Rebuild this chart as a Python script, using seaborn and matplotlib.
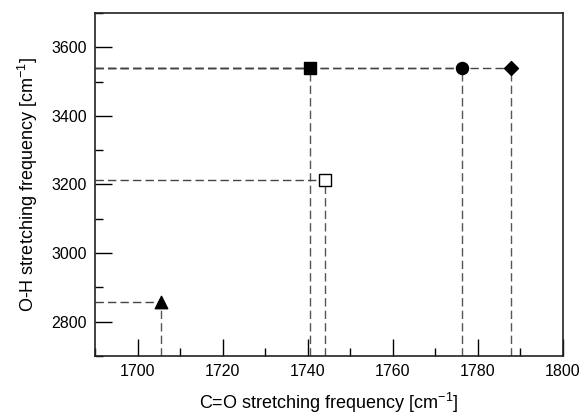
import numpy as np
import pandas as pd
import matplotlib
matplotlib.use('Agg')
import matplotlib.pyplot as plt
import seaborn as sns
from matplotlib.ticker import MultipleLocator

# C=O vs O-H stretching frequencies
co_freq = [1705.5, 1740.6, 1744.0, 1776.3, 1787.7]
oh_freq = [2858, 3540, 3214, 3540, 3540]
markers = ['^', 's', 's', 'o', 'D']
fills = ['black', 'black', 'white', 'black', 'black']
sizes = [80, 70, 70, 75, 50]

x_min, x_max = 1690, 1800
y_min, y_max = 2700, 3700

df = pd.DataFrame({'CO': co_freq, 'OH': oh_freq, 'marker': markers,
                   'fill': fills, 'size': sizes})

sns.set_style('ticks')
plt.rcParams['font.family'] = ['Liberation Sans', 'DejaVu Sans']
plt.rcParams['mathtext.fontset'] = 'custom'
plt.rcParams['mathtext.rm'] = 'Liberation Sans'
plt.rcParams['text.color'] = 'black'
plt.rcParams['axes.labelcolor'] = 'black'
plt.rcParams['xtick.labelcolor'] = 'black'
plt.rcParams['ytick.labelcolor'] = 'black'

fig = plt.figure(figsize=(5.84, 4.16), dpi=100)
ax = fig.add_axes([0.163, 0.144, 0.801, 0.825])

# dashed guide lines to both axes
for _, row in df.iterrows():
    ax.plot([x_min, row['CO']], [row['OH'], row['OH']], color='#444444',
            lw=1, dashes=(6, 3), zorder=1)
    ax.plot([row['CO'], row['CO']], [y_min, row['OH']], color='#555555',
            lw=1, dashes=(6, 3), zorder=1)

for _, row in df.iterrows():
    sns.scatterplot(x=[row['CO']], y=[row['OH']], marker=row['marker'],
                    s=row['size'], color=row['fill'], edgecolor='black',
                    linewidth=1, ax=ax, zorder=3, legend=False)

ax.set_xlim(x_min, x_max)
ax.set_ylim(y_min, y_max)
ax.xaxis.set_major_locator(MultipleLocator(20))
ax.xaxis.set_minor_locator(MultipleLocator(10))
ax.yaxis.set_major_locator(MultipleLocator(200))
ax.yaxis.set_minor_locator(MultipleLocator(100))
ax.tick_params(which='major', direction='in', length=12, width=1,
               labelsize=11.5, color='black', labelcolor='black',
               top=False, right=False, pad=6)
ax.tick_params(which='minor', direction='in', length=6, width=1,
               color='black', top=False, right=False)
for sp in ax.spines.values():
    sp.set_visible(True)
    sp.set_color('#222222')
    sp.set_linewidth(1.2)

ax.set_xlabel('C=O stretching frequency [cm$\\mathrm{^{-1}}$]', fontsize=13,
              labelpad=8, color='black')
ax.set_ylabel('O-H stretching frequency [cm$\\mathrm{^{-1}}$]', fontsize=13,
              labelpad=8, color='black')

fig.savefig('out.png', dpi=100)
